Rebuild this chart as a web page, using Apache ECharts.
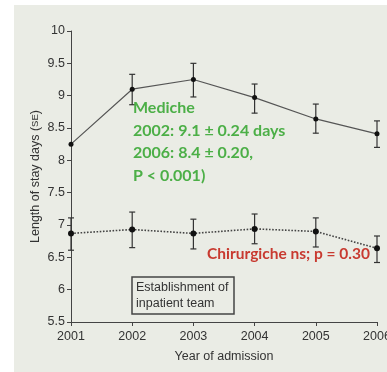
<!DOCTYPE html>
<html><head><meta charset="utf-8">
<script src="https://cdn.jsdelivr.net/npm/echarts@6/dist/echarts.min.js"></script>
<style>html,body{margin:0;padding:0;background:#fff}#c{width:387px;height:372px}</style>
</head><body><div id="c"></div>
<script>
const years = [2001, 2002, 2003, 2004, 2005, 2006];
const yTicks = [5.5, 6, 6.5, 7, 7.5, 8, 8.5, 9, 9.5, 10];
const medMean = [8.25, 9.1, 9.25, 8.97, 8.64, 8.41];
const medLow  = [null, 8.86, 8.98, 8.73, 8.42, 8.2];
const medHigh = [null, 9.33, 9.5, 9.18, 8.87, 8.61];
const chiMean = [6.87, 6.93, 6.87, 6.94, 6.9, 6.64];
const chiLow  = [6.61, 6.65, 6.63, 6.71, 6.66, 6.42];
const chiHigh = [7.11, 7.2, 7.09, 7.17, 7.11, 6.83];

function pairs(a){ return years.map((y,i)=>[y,a[i]]); }
function errData(lo,hi){ return years.map((y,i)=>lo[i]==null?null:[y,lo[i],hi[i]]).filter(d=>d); }
function errSeries(lo,hi){
  return {
    type:'custom', z:3,
    renderItem:function(params,api){
      const x=api.value(0);
      const p1=api.coord([x,api.value(1)]);
      const p2=api.coord([x,api.value(2)]);
      const w=3;
      const st={stroke:'#333',lineWidth:1.2};
      return {type:'group',children:[
        {type:'line',shape:{x1:p1[0],y1:p1[1],x2:p2[0],y2:p2[1]},style:st},
        {type:'line',shape:{x1:p1[0]-w,y1:p1[1],x2:p1[0]+w,y2:p1[1]},style:st},
        {type:'line',shape:{x1:p2[0]-w,y1:p2[1],x2:p2[0]+w,y2:p2[1]},style:st}
      ]};
    },
    data:errData(lo,hi)
  };
}
const chart = echarts.init(document.getElementById('c'));
const axisCol = '#444';
chart.setOption({
  backgroundColor:'#fff',
  animation:false,
  grid:{left:71,right:10,top:31,bottom:50,containLabel:false,outerBoundsMode:'none'},
  xAxis:{type:'value',min:2001,max:2006,interval:1,
    axisLine:{lineStyle:{color:axisCol,width:1}},
    axisTick:{show:true,length:4,lineStyle:{color:axisCol}},
    splitLine:{show:false},
    axisLabel:{color:'#333',fontSize:12.5,fontFamily:'Liberation Sans',margin:8,formatter:v=>String(v),hideOverlap:false},
    name:'Year of admission',nameLocation:'middle',nameGap:28,
    nameTextStyle:{color:'#333',fontSize:12.5,fontFamily:'Liberation Sans'}
  },
  yAxis:{type:'value',min:5.5,max:10,interval:0.5,
    axisLine:{show:true,lineStyle:{color:axisCol,width:1}},
    axisTick:{show:true,length:4,lineStyle:{color:axisCol}},
    splitLine:{show:false},
    axisLabel:{color:'#333',fontSize:12.5,fontFamily:'Liberation Sans',margin:6,
      formatter:v=>{const t=yTicks.find(t=>Math.abs(t-v)<1e-6);return t==null?'':String(t);}},
    name:'Length of stay days ({s|SE})',nameLocation:'middle',nameGap:29,nameRotate:90,nameMoveOverlap:false,
    nameTextStyle:{color:'#333',fontSize:12.5,fontFamily:'Liberation Sans',
      rich:{s:{fontSize:9.5,color:'#333',fontFamily:'Liberation Sans'}}}
  },
  series:[
    {type:'line',data:pairs(medMean),symbol:'circle',symbolSize:5,z:4,
      lineStyle:{color:'#555',width:1.2},itemStyle:{color:'#111'}},
    {type:'line',data:pairs(chiMean),symbol:'circle',symbolSize:6,z:4,
      lineStyle:{color:'#444',width:1.6,type:'dotted'},itemStyle:{color:'#111'}},
    errSeries(medLow,medHigh),
    errSeries(chiLow,chiHigh)
  ],
  graphic:[
    {type:'rect',z:-100,silent:true,shape:{x:14,y:5,width:373,height:367},style:{fill:'#eaece5'}},
    {type:'rect',z:10,shape:{x:132,y:277,width:102,height:37},style:{fill:'none',stroke:'#444',lineWidth:1.5}},
    {type:'text',z:10,left:136,top:280,style:{text:'Establishment of\ninpatient team',fill:'#333',
      font:'12.5px "Liberation Sans"',lineHeight:16}},
    {type:'text',z:10,left:133,top:97,style:{text:'Mediche\n2002: 9.1 \u00b1 0.24 days\n2006: 8.4 \u00b1 0.20,\nP < 0.001)',
      fill:'#4caf47',font:'bold 16px Lato',lineHeight:22.5}},
    {type:'text',z:10,left:207,top:246,style:{text:'Chirurgiche ns; p = 0.30',fill:'#c83a30',
      font:'bold 15.5px Lato'}}
  ]
});
</script></body></html>
